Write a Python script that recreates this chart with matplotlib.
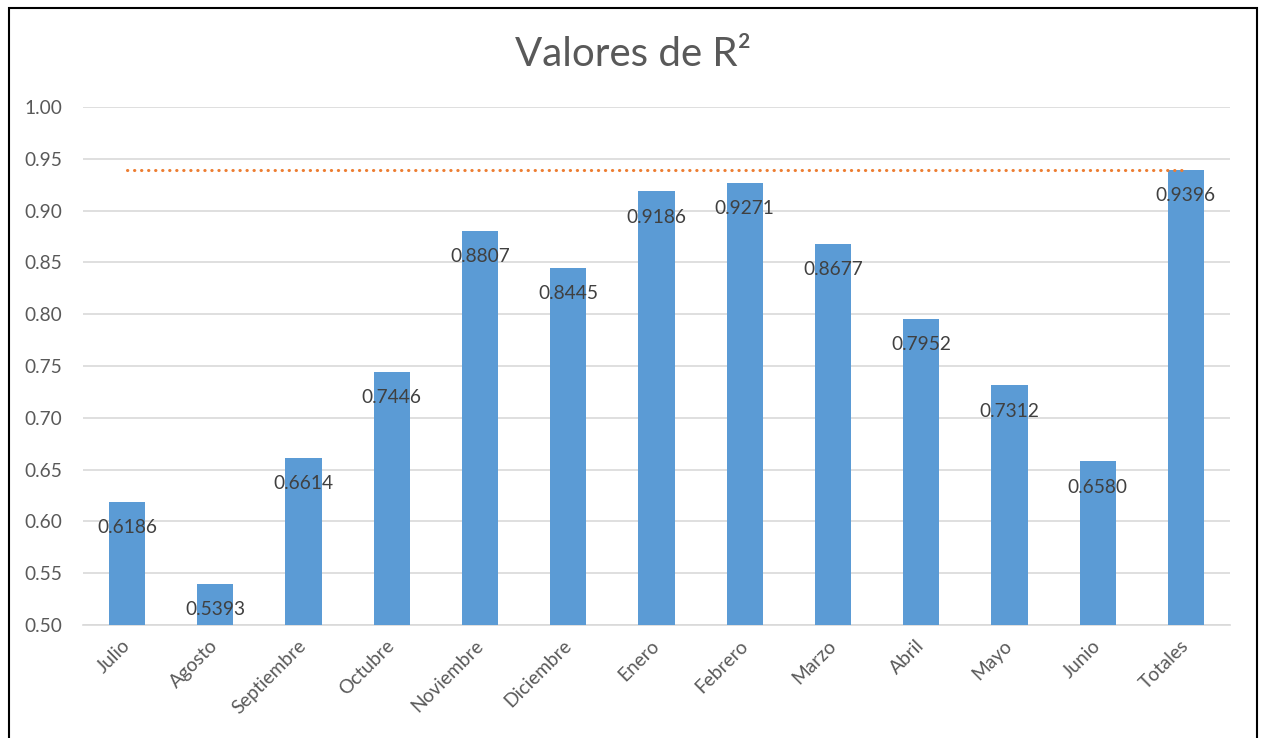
import numpy as np
import matplotlib.pyplot as plt
from matplotlib.patches import Rectangle

# ======================
# Data
# ======================
meses = ['Julio', 'Agosto', 'Septiembre', 'Octubre', 'Noviembre', 'Diciembre',
         'Enero', 'Febrero', 'Marzo', 'Abril', 'Mayo', 'Junio', 'Totales']
r2 = [0.6186, 0.5393, 0.6614, 0.7446, 0.8807, 0.8445,
      0.9186, 0.9271, 0.8677, 0.7952, 0.7312, 0.6580, 0.9396]
r2_total = 0.9396
yticks = [0.50, 0.55, 0.60, 0.65, 0.70, 0.75, 0.80, 0.85, 0.90, 0.95, 1.00]

plt.rcParams['font.family'] = ['Lato', 'DejaVu Sans']

fig = plt.figure(figsize=(12.62, 7.38), dpi=100)
ax = fig.add_axes([83 / 1262, 113 / 738, (1230 - 83) / 1262, (625 - 107) / 738])

x = np.arange(len(meses))
ax.bar(x, r2, width=0.41, color='#5B9BD5', zorder=3)

# reference line (total R²)
ax.plot(x, [r2_total] * len(x), color='#ED7D31', lw=2.2,
        linestyle=(0, (0.1, 2.2)), dash_capstyle='round', zorder=4)

# data labels
for xi, v in zip(x, r2):
    ax.annotate(f'{v:.4f}', (xi, v), xytext=(0, -18.5), textcoords='offset points',
                ha='center', va='center', fontsize=13.8, color='#404040', zorder=5)

ax.set_xlim(-0.5, len(meses) - 0.5)
ax.set_ylim(0.5, 1.0)
ax.set_yticks(yticks)
ax.set_yticklabels([f'{t:.2f}' for t in yticks])
ax.yaxis.grid(True, color='#D9D9D9', lw=1.2, zorder=0)
ax.set_axisbelow(True)

for s in ['top', 'right', 'left']:
    ax.spines[s].set_visible(False)
ax.spines['bottom'].set_color('#D9D9D9')
ax.spines['bottom'].set_linewidth(1.2)

ax.tick_params(axis='both', length=0, labelsize=13.8, labelcolor='#595959')
ax.tick_params(axis='y', pad=15)
ax.set_xticks(x)
ax.set_xticklabels(meses, rotation=45, ha='right', va='center', rotation_mode='anchor')
ax.tick_params(axis='x', pad=13)

fig.text(633 / 1262, 1 - 55 / 738, 'Valores de R²', ha='center', va='center',
         fontsize=29, color='#595959')

# chart frame
fig.patches.append(Rectangle((9 / 1262, -0.05), (1257 - 9) / 1262, 1.05 - 8 / 738,
                             transform=fig.transFigure, fill=False,
                             edgecolor='black', lw=1.5))

fig.savefig('out.png', dpi=100)
